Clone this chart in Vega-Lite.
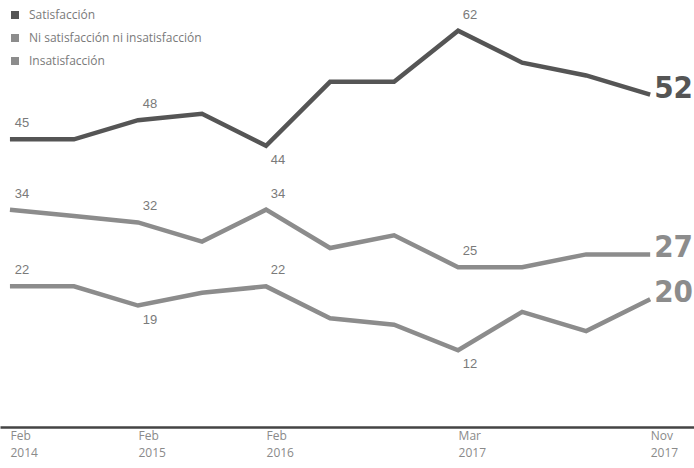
{
  "$schema": "https://vega.github.io/schema/vega-lite/v6.json",
  "width": 694,
  "height": 427,
  "padding": {"left": 0, "top": 0, "right": 0, "bottom": 41},
  "autosize": {"type": "none"},
  "background": "white",
  "config": {"view": {"stroke": null}},
  "data": {"values": [
    {"serie": "Satisfacción", "fecha": "Feb 2014", "valor": 45},
    {"serie": "Satisfacción", "fecha": "Ago 2014", "valor": 45},
    {"serie": "Satisfacción", "fecha": "Feb 2015", "valor": 48},
    {"serie": "Satisfacción", "fecha": "Ago 2015", "valor": 49},
    {"serie": "Satisfacción", "fecha": "Feb 2016", "valor": 44},
    {"serie": "Satisfacción", "fecha": "Jun 2016", "valor": 54},
    {"serie": "Satisfacción", "fecha": "Nov 2016", "valor": 54},
    {"serie": "Satisfacción", "fecha": "Mar 2017", "valor": 62},
    {"serie": "Satisfacción", "fecha": "Jun 2017", "valor": 57},
    {"serie": "Satisfacción", "fecha": "Ago 2017", "valor": 55},
    {"serie": "Satisfacción", "fecha": "Nov 2017", "valor": 52},
    {"serie": "Ni satisfacción ni insatisfacción", "fecha": "Feb 2014", "valor": 34},
    {"serie": "Ni satisfacción ni insatisfacción", "fecha": "Ago 2014", "valor": 33},
    {"serie": "Ni satisfacción ni insatisfacción", "fecha": "Feb 2015", "valor": 32},
    {"serie": "Ni satisfacción ni insatisfacción", "fecha": "Ago 2015", "valor": 29},
    {"serie": "Ni satisfacción ni insatisfacción", "fecha": "Feb 2016", "valor": 34},
    {"serie": "Ni satisfacción ni insatisfacción", "fecha": "Jun 2016", "valor": 28},
    {"serie": "Ni satisfacción ni insatisfacción", "fecha": "Nov 2016", "valor": 30},
    {"serie": "Ni satisfacción ni insatisfacción", "fecha": "Mar 2017", "valor": 25},
    {"serie": "Ni satisfacción ni insatisfacción", "fecha": "Jun 2017", "valor": 25},
    {"serie": "Ni satisfacción ni insatisfacción", "fecha": "Ago 2017", "valor": 27},
    {"serie": "Ni satisfacción ni insatisfacción", "fecha": "Nov 2017", "valor": 27},
    {"serie": "Insatisfacción", "fecha": "Feb 2014", "valor": 22},
    {"serie": "Insatisfacción", "fecha": "Ago 2014", "valor": 22},
    {"serie": "Insatisfacción", "fecha": "Feb 2015", "valor": 19},
    {"serie": "Insatisfacción", "fecha": "Ago 2015", "valor": 21},
    {"serie": "Insatisfacción", "fecha": "Feb 2016", "valor": 22},
    {"serie": "Insatisfacción", "fecha": "Jun 2016", "valor": 17},
    {"serie": "Insatisfacción", "fecha": "Nov 2016", "valor": 16},
    {"serie": "Insatisfacción", "fecha": "Mar 2017", "valor": 12},
    {"serie": "Insatisfacción", "fecha": "Jun 2017", "valor": 18},
    {"serie": "Insatisfacción", "fecha": "Ago 2017", "valor": 15},
    {"serie": "Insatisfacción", "fecha": "Nov 2017", "valor": 20}
  ]},
  "encoding": {
    "x": {
      "field": "fecha", "type": "ordinal", "sort": null,
      "scale": {"type": "point", "padding": 0.42, "align": 0.185},
      "axis": {
        "title": null, "ticks": false, "grid": false,
        "domainColor": "#444", "domainWidth": 2.5,
        "labelExpr": "indexof(['Feb 2014','Feb 2015','Feb 2016','Mar 2017','Nov 2017'], datum.value) >= 0 ? split(datum.value, ' ') : ''",
        "labelAlign": "left", "labelBaseline": "top", "labelPadding": 3, "labelDx": -6,
        "labelFont": "Open Sans", "labelFontSize": 12, "labelColor": "#8a8a8a",
        "labelLineHeight": 17, "labelAngle": 0, "labelOverlap": false, "labelBound": false
      }
    },
    "y": {
      "field": "valor", "type": "quantitative",
      "scale": {"domain": [0, 66.8], "nice": false, "zero": false},
      "axis": null
    },
    "color": {
      "field": "serie", "type": "nominal",
      "scale": {
        "domain": ["Satisfacción", "Ni satisfacción ni insatisfacción", "Insatisfacción"],
        "range": ["#555555", "#8c8c8c", "#8c8c8c"]
      },
      "legend": {
        "title": null, "orient": "top-left", "offset": 9,
        "symbolType": "square", "symbolSize": 64, "symbolStrokeWidth": 0,
        "labelFont": "Open Sans", "labelFontSize": 12, "labelColor": "#7a7a7a",
        "rowPadding": 11, "labelOffset": 8, "labelLimit": 400
      }
    }
  },
  "layer": [
    {
      "mark": {"type": "line", "strokeWidth": 4.5, "strokeJoin": "miter", "strokeCap": "butt"}
    },
    {
      "transform": [
        {"filter": "indexof(['Feb 2014','Feb 2015','Feb 2016','Mar 2017'], datum.fecha) >= 0"},
        {"filter": "!((datum.serie == 'Satisfacción' && datum.fecha == 'Feb 2016') || (datum.serie == 'Insatisfacción' && (datum.fecha == 'Feb 2015' || datum.fecha == 'Mar 2017')))"}
      ],
      "mark": {"type": "text", "baseline": "bottom", "dy": -9, "dx": 12, "font": "Liberation Sans", "fontSize": 13},
      "encoding": {"text": {"field": "valor", "type": "quantitative"}, "color": {"value": "#7a7a7a"}}
    },
    {
      "transform": [
        {"filter": "(datum.serie == 'Satisfacción' && datum.fecha == 'Feb 2016') || (datum.serie == 'Insatisfacción' && (datum.fecha == 'Feb 2015' || datum.fecha == 'Mar 2017'))"}
      ],
      "mark": {"type": "text", "baseline": "top", "dy": 8, "dx": 12, "font": "Liberation Sans", "fontSize": 13},
      "encoding": {"text": {"field": "valor", "type": "quantitative"}, "color": {"value": "#7a7a7a"}}
    },
    {
      "transform": [{"filter": "datum.fecha == 'Nov 2017'"}],
      "mark": {"type": "text", "align": "left", "baseline": "alphabetic", "dx": 4, "dy": 3, "font": "DejaVu Sans Condensed", "fontWeight": "bold", "fontSize": 31},
      "encoding": {
        "text": {"field": "valor", "type": "quantitative"},
        "color": {
          "field": "serie", "type": "nominal",
          "scale": {
            "domain": ["Satisfacción", "Ni satisfacción ni insatisfacción", "Insatisfacción"],
            "range": ["#555555", "#8c8c8c", "#8c8c8c"]
          },
          "legend": null
        }
      }
    }
  ]
}
